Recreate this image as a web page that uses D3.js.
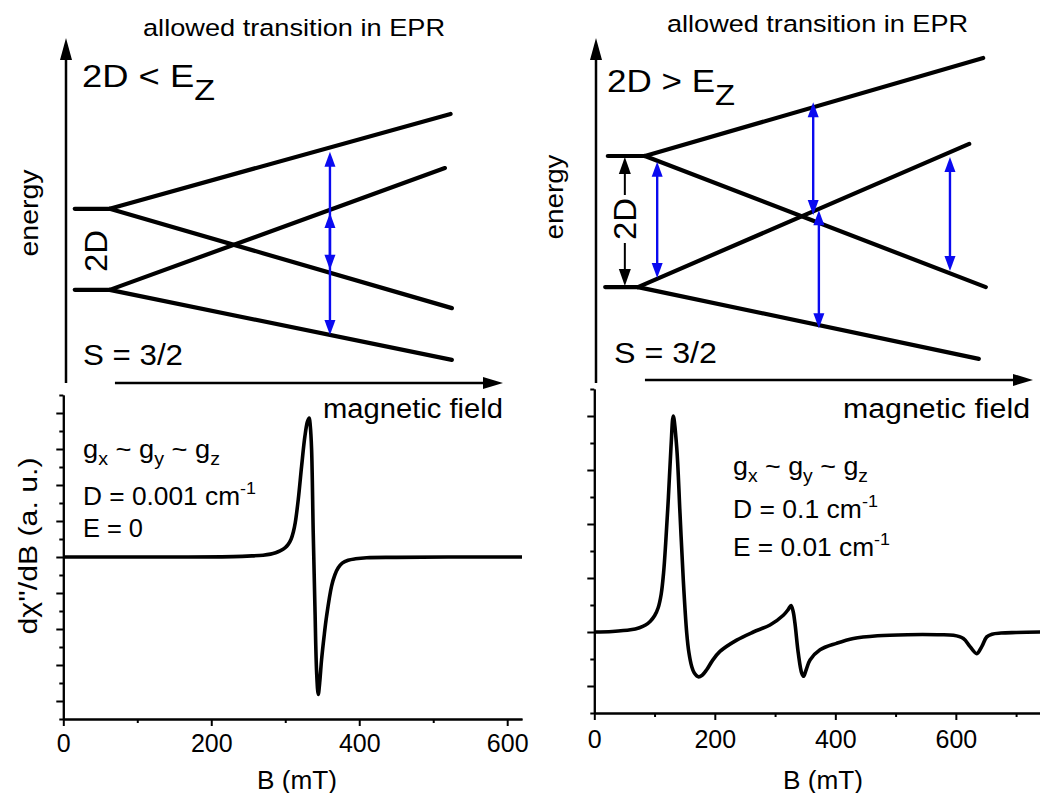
<!DOCTYPE html>
<html>
<head>
<meta charset="utf-8">
<script src="https://cdn.jsdelivr.net/npm/d3@7"></script>
<style>
  body { margin: 0; background: #fff; }
  text { font-family: "Liberation Sans", Arial, sans-serif; fill: #000; }
</style>
</head>
<body>
<svg id="chart" width="1040" height="793"></svg>
<script>
// spectra: [B in mT, signal in a.u.]
const spectrumLeft = [
  [0,0],[150,0],[230,0.01],[255,0.03],[270,0.05],[280,0.08],[287,0.12],[293,0.17],[300,0.26],
  [304,0.35],[308,0.5],[311,0.7],[313.5,0.95],[317.6,1.6],[322.1,2.52],[326.6,3.36],[330,3.76],
  [332.4,3.86],[333.8,3.65],[335.6,2.99],[337.8,0.68],[340.1,-1.37],[342.4,-3.2],[344.6,-3.82],
  [346.5,-3.5],[349.1,-2.85],[352.5,-2.2],[355.9,-1.64],[362.6,-0.81],[367,-0.5],[371.6,-0.3],
  [377,-0.17],[385,-0.09],[395,-0.05],[410,-0.02],[450,-0.01],[520,0],[620,0]
];
const spectrumRight = [
  [0,0],[30,0.01],[60,0.04],[75,0.08],[85,0.13],[93,0.2],[100,0.3],[106,0.45],[111,0.7],
  [115,1.1],[118.5,1.65],[123,2.5],[127.3,3.43],[131,4.0],[136.7,3.43],[142.2,2.2],[147.7,0.96],
  [153.4,-0.02],[157,-0.38],[161.7,-0.64],[166,-0.76],[172.6,-0.83],[179,-0.8],[186.5,-0.7],
  [196,-0.53],[208.6,-0.36],[236.3,-0.15],[263.9,0.0],[291.6,0.13],[313.7,0.31],[322,0.42],
  [326.5,0.49],[330,0.38],[333,0.16],[338.6,-0.4],[344.2,-0.76],[347.5,-0.82],[351,-0.72],
  [358,-0.52],[374.6,-0.33],[402,-0.21],[430,-0.12],[470,-0.07],[520,-0.05],[570,-0.05],
  [596,-0.06],[612.5,-0.12],[623.6,-0.27],[634.7,-0.4],[643,-0.27],[651.3,-0.09],[660,-0.04],
  [675,-0.02],[700,-0.01],[740,0]
];
const bTicks = [0, 200, 400, 600];
const bMinorLeft = [100, 300, 500];
const bMinorRight = [100, 300, 500, 700];

// energy level diagrams (field and energy in arbitrary units 0..10)
const levelsLeft = [
  [0.2,5.05,1.0,5.05],[0.2,2.7,1.0,2.7],
  [1.0,5.05,8.8,7.8],[1.0,5.05,8.83,2.17],
  [1.0,2.7,8.67,6.23],[1.0,2.7,8.83,0.67]
];
const transitionsLeft = [[6.04,6.7,1.39],[6.04,4.93,3.28]];
const levelsRight = [
  [0.27,6.58,1.12,6.58],[0.21,2.78,0.96,2.78],
  [1.12,6.58,8.86,9.42],[1.12,6.58,8.92,2.78],
  [0.96,2.78,8.54,6.93],[0.96,2.78,8.76,0.70]
];
const transitionsRight = [[1.40,6.41,3.04],[4.97,8.14,4.87],[5.10,5.01,1.59],[8.10,6.55,3.25]];
const splitRight = [0.66, 6.58, 2.78];

const svg = d3.select("#chart");
svg.append("rect").attr("width", 1040).attr("height", 793).attr("fill", "#fff");

function head(g, tx, ty, dx, dy, len, hw, color) {
  // tip at (tx,ty), pointing along (dx,dy)
  const n = Math.hypot(dx, dy); dx /= n; dy /= n;
  const bx = tx - dx * len, by = ty - dy * len;
  g.append("path")
    .attr("d", `M${tx},${ty}L${bx - dy * hw},${by + dx * hw}L${bx + dy * hw},${by - dx * hw}Z`)
    .attr("fill", color);
}

function diagram(x, y, levels, transitions, opt) {
  const g = svg.append("g");
  // axes
  g.append("line").attr("x1", x(0)).attr("x2", x(0)).attr("y1", y(0)).attr("y2", y(10) + 18)
    .attr("stroke", "#000").attr("stroke-width", 2.5);
  head(g, x(0), y(10), 0, -1, 22, 6, "#000");
  g.append("line").attr("x1", x(opt.hx0)).attr("x2", x(10) - 16).attr("y1", y(opt.hy)).attr("y2", y(opt.hy))
    .attr("stroke", "#000").attr("stroke-width", 2.5);
  head(g, x(10), y(opt.hy), 1, 0, 20, 6, "#000");
  // levels
  g.selectAll("line.lev").data(levels).join("line").attr("class", "lev")
    .attr("x1", d => x(d[0])).attr("y1", d => y(d[1]))
    .attr("x2", d => x(d[2])).attr("y2", d => y(d[3]))
    .attr("stroke", "#000").attr("stroke-width", 4.2).attr("stroke-linecap", "round");
  // transitions
  transitions.forEach(t => {
    const px = x(t[0]), y1 = y(t[1]), y2 = y(t[2]);
    g.append("line").attr("x1", px).attr("x2", px).attr("y1", y1 + 8).attr("y2", y2 - 8)
      .attr("stroke", "#0a0af0").attr("stroke-width", 2.4);
    head(g, px, y1, 0, -1, 15, 5.5, "#0a0af0");
    head(g, px, y2, 0, 1, 15, 5.5, "#0a0af0");
  });
  return g;
}

const xTL = d3.scaleLinear().domain([0, 10]).range([66, 503]);
const yTL = d3.scaleLinear().domain([0, 10]).range([383, 38]);
diagram(xTL, yTL, levelsLeft, transitionsLeft, {hx0: 1.12, hy: 0});

const xTR = d3.scaleLinear().domain([0, 10]).range([596, 1033]);
const yTR = d3.scaleLinear().domain([0, 10]).range([383, 38]);
const gR = diagram(xTR, yTR, levelsRight, transitionsRight, {hx0: 1.12, hy: 0.09});
// 2D splitting arrow
{
  const px = xTR(splitRight[0]), yt = yTR(splitRight[1]), yb = yTR(splitRight[2]);
  gR.append("line").attr("x1", px).attr("x2", px).attr("y1", yt + 10).attr("y2", 195)
    .attr("stroke", "#000").attr("stroke-width", 2);
  gR.append("line").attr("x1", px).attr("x2", px).attr("y1", 243).attr("y2", yb - 10)
    .attr("stroke", "#000").attr("stroke-width", 2);
  head(gR, px, yt + 1, 0, -1, 17, 6, "#000");
  head(gR, px, yb - 1, 0, 1, 17, 6, "#000");
}

// texts of the diagrams
function txt(x, y, s, size, len, anchor) {
  const t = svg.append("text").attr("x", x).attr("y", y).attr("font-size", size).text(s);
  if (len) t.attr("textLength", len).attr("lengthAdjust", "spacingAndGlyphs");
  if (anchor) t.attr("text-anchor", anchor);
  return t;
}
function rtxt(x, y, s, size, len) {
  return svg.append("text").attr("transform", `translate(${x},${y}) rotate(-90)`)
    .attr("text-anchor", "middle").attr("font-size", size)
    .attr("textLength", len).attr("lengthAdjust", "spacingAndGlyphs").text(s);
}

txt(143, 36, "allowed transition in EPR", 24.5, 302);
txt(667, 32, "allowed transition in EPR", 24.5, 301);

function condition(x, y, s, len) {
  const t = svg.append("text").attr("x", x).attr("y", y).attr("font-size", 31)
    .attr("textLength", len).attr("lengthAdjust", "spacingAndGlyphs");
  t.append("tspan").text(s);
  t.append("tspan").attr("dy", 13).attr("font-size", 29).text("Z");
}
condition(82, 87, "2D < E", 133);
condition(607, 92, "2D > E", 128);

rtxt(38, 213, "energy", 26, 87);
rtxt(563, 197, "energy", 26, 85);
rtxt(107, 251, "2D", 31, 42);
rtxt(636, 219, "2D", 31, 42);
txt(83, 365, "S = 3/2", 29, 100);
txt(614, 363, "S = 3/2", 29, 103);
txt(323, 418, "magnetic field", 27, 180);
txt(843, 418, "magnetic field", 27, 187);

// spectra panels
function spectrum(x, y, data, major, minor, yMajor, yMinor, labelDy) {
  const g = svg.append("g");
  const ax = g.append("g").attr("transform", `translate(0,${y.range()[0]})`)
    .call(d3.axisBottom(x).tickValues(major).tickSize(7).tickSizeOuter(0).tickPadding(labelDy));
  ax.selectAll("text").attr("font-size", 25).attr("font-family", "Liberation Sans, Arial, sans-serif")
    .attr("fill", "#000");
  g.append("g").attr("transform", `translate(0,${y.range()[0]})`)
    .call(d3.axisBottom(x).tickValues(minor).tickSize(4).tickSizeOuter(0).tickFormat(""));
  g.append("g").attr("transform", `translate(${x.range()[0]},0)`)
    .call(d3.axisLeft(y).tickValues(yMajor).tickSize(7).tickSizeOuter(0).tickFormat(""));
  g.append("g").attr("transform", `translate(${x.range()[0]},0)`)
    .call(d3.axisLeft(y).tickValues(yMinor).tickSize(4).tickSizeOuter(0).tickFormat(""));
  g.selectAll(".domain, .tick line").attr("stroke", "#000").attr("stroke-width", 2);
  g.append("path").datum(data)
    .attr("d", d3.line().x(d => x(d[0])).y(d => y(d[1])).curve(d3.curveCatmullRom.alpha(0.5)))
    .attr("fill", "none").attr("stroke", "#000").attr("stroke-width", 3.6)
    .attr("stroke-linejoin", "round");
}

const xBL = d3.scaleLinear().domain([0, 620]).range([63.3, 522]);
const yBL = d3.scaleLinear().domain([-4.5, 4.5]).range([719, 395]);
spectrum(xBL, yBL, spectrumLeft, bTicks, bMinorLeft,
  d3.range(-4, 5), d3.range(-4.5, 5, 1), 8);

const xBR = d3.scaleLinear().domain([0, 740]).range([594.3, 1040.2]);
const yBR = d3.scaleLinear().domain([-1.5, 4.5]).range([713, 389]);
spectrum(xBR, yBR, spectrumRight, bTicks, bMinorRight,
  d3.range(-1, 5), d3.range(-1.5, 5, 1), 10);

txt(297, 789, "B (mT)", 25, 80, "middle");
txt(823, 789, "B (mT)", 25, 80, "middle");
rtxt(37, 546, "d\u03C7''/dB (a. u.)", 25, 177);

function params(x, y0, lines) {
  // g_x ~ g_y ~ g_z
  const g = svg.append("text").attr("x", x).attr("y", y0).attr("font-size", 25)
    .attr("textLength", lines[0]).attr("lengthAdjust", "spacingAndGlyphs");
  [["g",0],["x",1],[" ~ g",0],["y",1],[" ~ g",0],["z",1]].forEach(([s, sub], i) => {
    g.append("tspan").attr("dy", i === 0 ? 0 : (sub ? 7 : -7)).attr("font-size", sub ? 18 : 25).text(s);
  });
  lines.slice(1).forEach(l => {
    const t = svg.append("text").attr("x", x).attr("y", l.y).attr("font-size", 25)
      .attr("textLength", l.len).attr("lengthAdjust", "spacingAndGlyphs");
    t.append("tspan").text(l.s);
    if (l.sup) t.append("tspan").attr("dy", -11).attr("font-size", 17).text(l.sup);
  });
}
params(83, 458, [137,
  {y: 505, s: "D = 0.001 cm", sup: "-1", len: 173},
  {y: 537, s: "E = 0", len: 60}]);
params(733, 475, [135,
  {y: 518, s: "D = 0.1 cm", sup: "-1", len: 145},
  {y: 556, s: "E = 0.01 cm", sup: "-1", len: 157}]);
</script>
</body>
</html>
